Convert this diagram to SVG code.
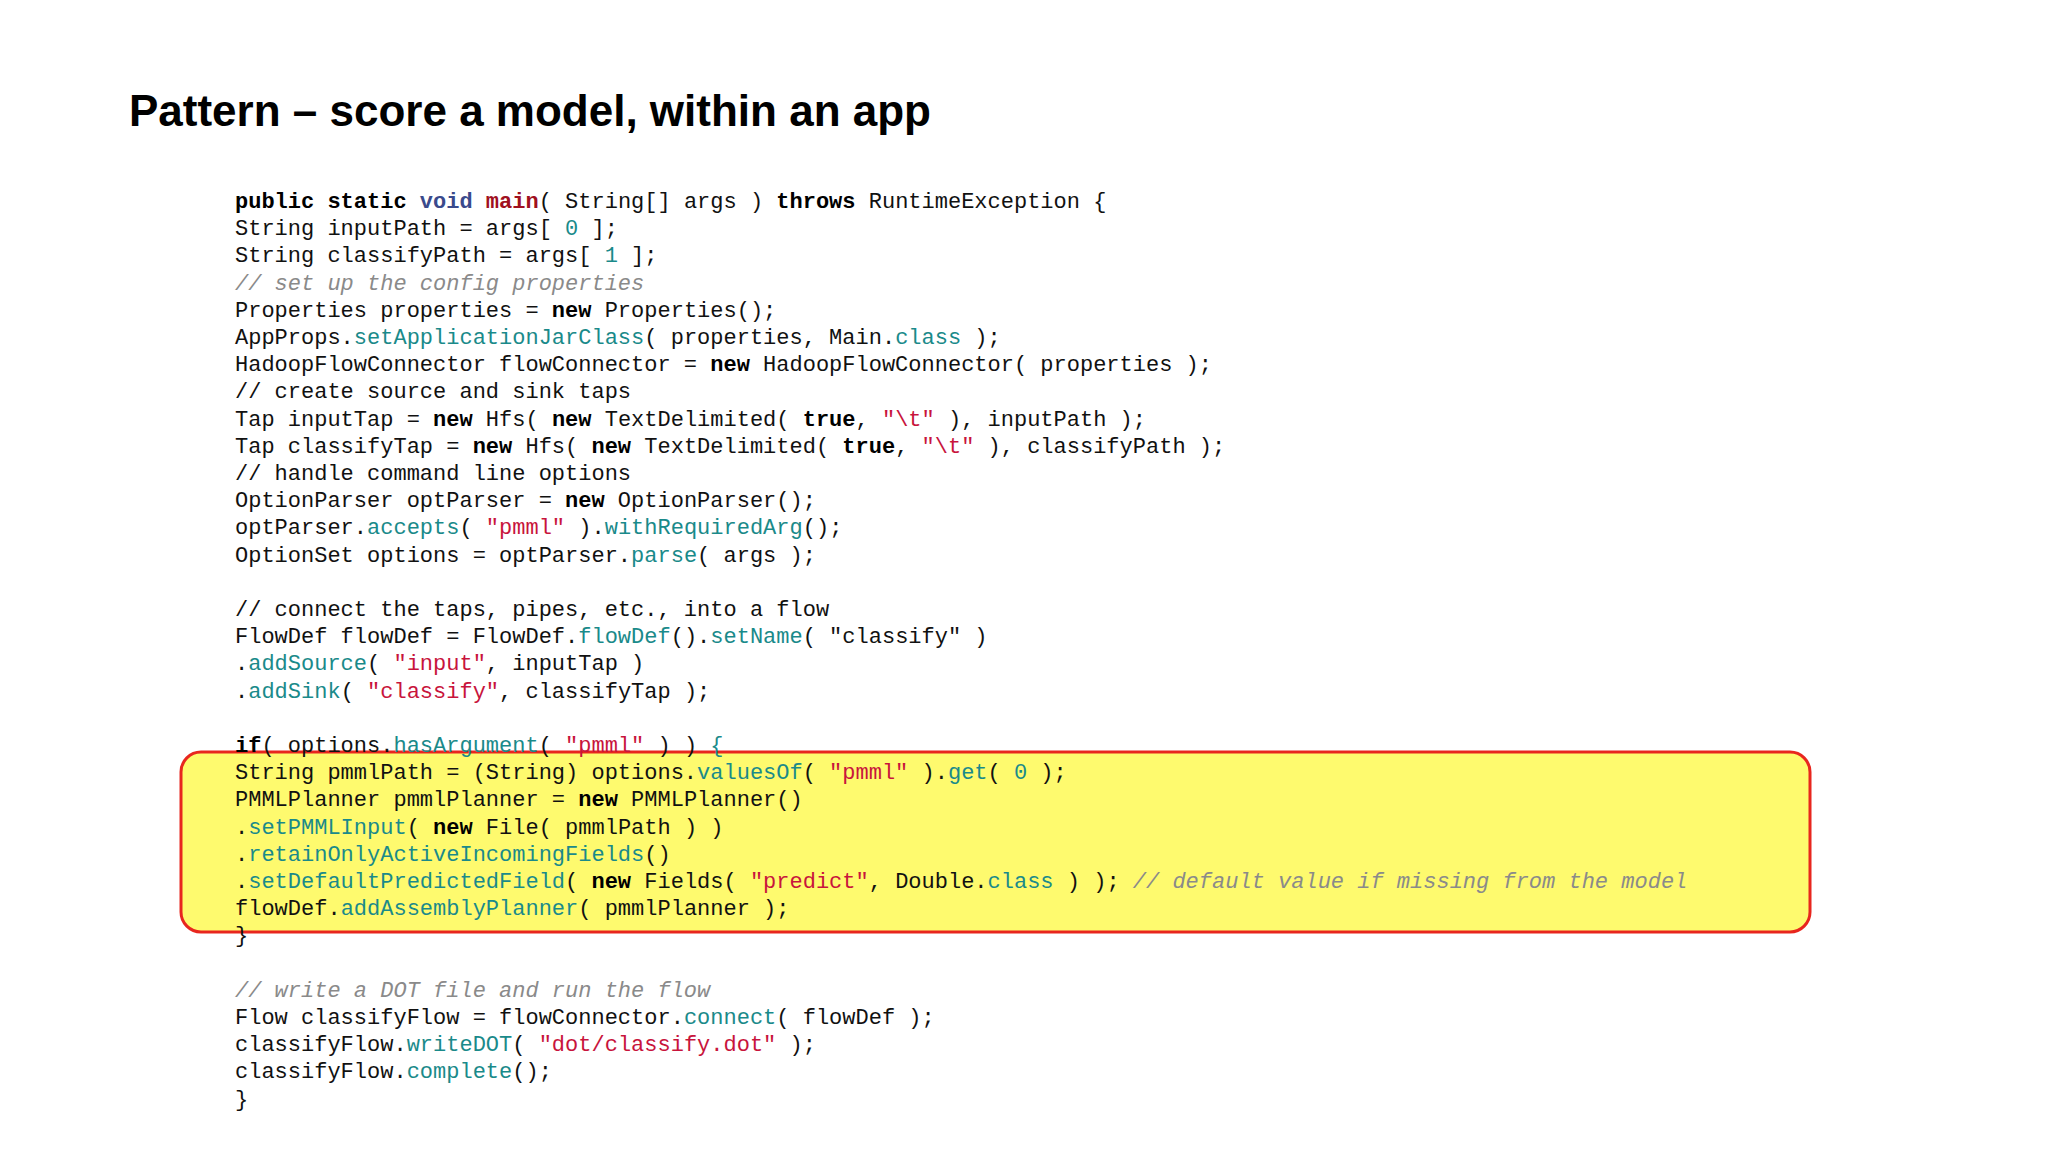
<svg xmlns="http://www.w3.org/2000/svg" width="2048" height="1152" viewBox="0 0 2048 1152">
<style>
.t{font-family:"Liberation Sans",Arial,sans-serif;font-weight:bold;font-size:44px;fill:#000}
.c{font-family:"Liberation Mono","Courier New",monospace;font-size:22px;fill:#111;white-space:pre}
.k{font-weight:bold;fill:#000}
.v{font-weight:bold;fill:#3a4a8c}
.m{font-weight:bold;fill:#a01020}
.f{fill:#1a8a8a}
.s{fill:#c8143c}
.g{fill:#8a8a8a;font-style:italic}
</style>
<rect width="2048" height="1152" fill="#fff"/>
<g id="title"><text class="t" x="129" y="126">Pattern – score a model, within an app</text></g>
<g id="highlight"><rect x="181" y="752" width="1629" height="180" rx="20" fill="#fefa6e" stroke="#e8261e" stroke-width="3"/></g>
<g id="code" class="c" xml:space="preserve">
<text x="235" y="208"><tspan class="k">public static</tspan> <tspan class="v">void</tspan> <tspan class="m">main</tspan>( String[] args ) <tspan class="k">throws</tspan> RuntimeException {</text>
<text x="235" y="235">  String inputPath = args[ <tspan class="f">0</tspan> ];</text>
<text x="235" y="262">  String classifyPath = args[ <tspan class="f">1</tspan> ];</text>
<text x="235" y="290" class="g">  // set up the config properties</text>
<text x="235" y="317">  Properties properties = <tspan class="k">new</tspan> Properties();</text>
<text x="235" y="344">  AppProps.<tspan class="f">setApplicationJarClass</tspan>( properties, Main.<tspan class="f">class</tspan> );</text>
<text x="235" y="371">  HadoopFlowConnector flowConnector = <tspan class="k">new</tspan> HadoopFlowConnector( properties );</text>
<text x="235" y="398">   // create source and sink taps</text>
<text x="235" y="426">  Tap inputTap = <tspan class="k">new</tspan> Hfs( <tspan class="k">new</tspan> TextDelimited( <tspan class="k">true</tspan>, <tspan class="s">"\t"</tspan> ), inputPath );</text>
<text x="235" y="453">  Tap classifyTap = <tspan class="k">new</tspan> Hfs( <tspan class="k">new</tspan> TextDelimited( <tspan class="k">true</tspan>, <tspan class="s">"\t"</tspan> ), classifyPath );</text>
<text x="235" y="480">   // handle command line options</text>
<text x="235" y="507">  OptionParser optParser = <tspan class="k">new</tspan> OptionParser();</text>
<text x="235" y="534">  optParser.<tspan class="f">accepts</tspan>( <tspan class="s">"pmml"</tspan> ).<tspan class="f">withRequiredArg</tspan>();</text>
<text x="235" y="562">  OptionSet options = optParser.<tspan class="f">parse</tspan>( args );</text>
<text x="235" y="616">  // connect the taps, pipes, etc., into a flow</text>
<text x="235" y="643">  FlowDef flowDef = FlowDef.<tspan class="f">flowDef</tspan>().<tspan class="f">setName</tspan>( "classify" )</text>
<text x="235" y="670">    .<tspan class="f">addSource</tspan>( <tspan class="s">"input"</tspan>, inputTap )</text>
<text x="235" y="698">    .<tspan class="f">addSink</tspan>( <tspan class="s">"classify"</tspan>, classifyTap );</text>
<text x="235" y="752">  <tspan class="k">if</tspan>( options.<tspan class="f">hasArgument</tspan>( <tspan class="s">"pmml"</tspan> ) ) <tspan class="f">{</tspan></text>
<text x="235" y="779">    String pmmlPath = (String) options.<tspan class="f">valuesOf</tspan>( <tspan class="s">"pmml"</tspan> ).<tspan class="f">get</tspan>( <tspan class="f">0</tspan> );</text>
<text x="235" y="806">    PMMLPlanner pmmlPlanner = <tspan class="k">new</tspan> PMMLPlanner()</text>
<text x="235" y="834">      .<tspan class="f">setPMMLInput</tspan>( <tspan class="k">new</tspan> File( pmmlPath ) )</text>
<text x="235" y="861">      .<tspan class="f">retainOnlyActiveIncomingFields</tspan>()</text>
<text x="235" y="888">      .<tspan class="f">setDefaultPredictedField</tspan>( <tspan class="k">new</tspan> Fields( <tspan class="s">"predict"</tspan>, Double.<tspan class="f">class</tspan> ) ); <tspan class="g">// default value if missing from the model</tspan></text>
<text x="235" y="915">    flowDef.<tspan class="f">addAssemblyPlanner</tspan>( pmmlPlanner );</text>
<text x="235" y="942">    }</text>
<text x="235" y="997" class="g">  // write a DOT file and run the flow</text>
<text x="235" y="1024">  Flow classifyFlow = flowConnector.<tspan class="f">connect</tspan>( flowDef );</text>
<text x="235" y="1051">  classifyFlow.<tspan class="f">writeDOT</tspan>( <tspan class="s">"dot/classify.dot"</tspan> );</text>
<text x="235" y="1078">  classifyFlow.<tspan class="f">complete</tspan>();</text>
<text x="235" y="1106">  }</text>
</g>
</svg>
